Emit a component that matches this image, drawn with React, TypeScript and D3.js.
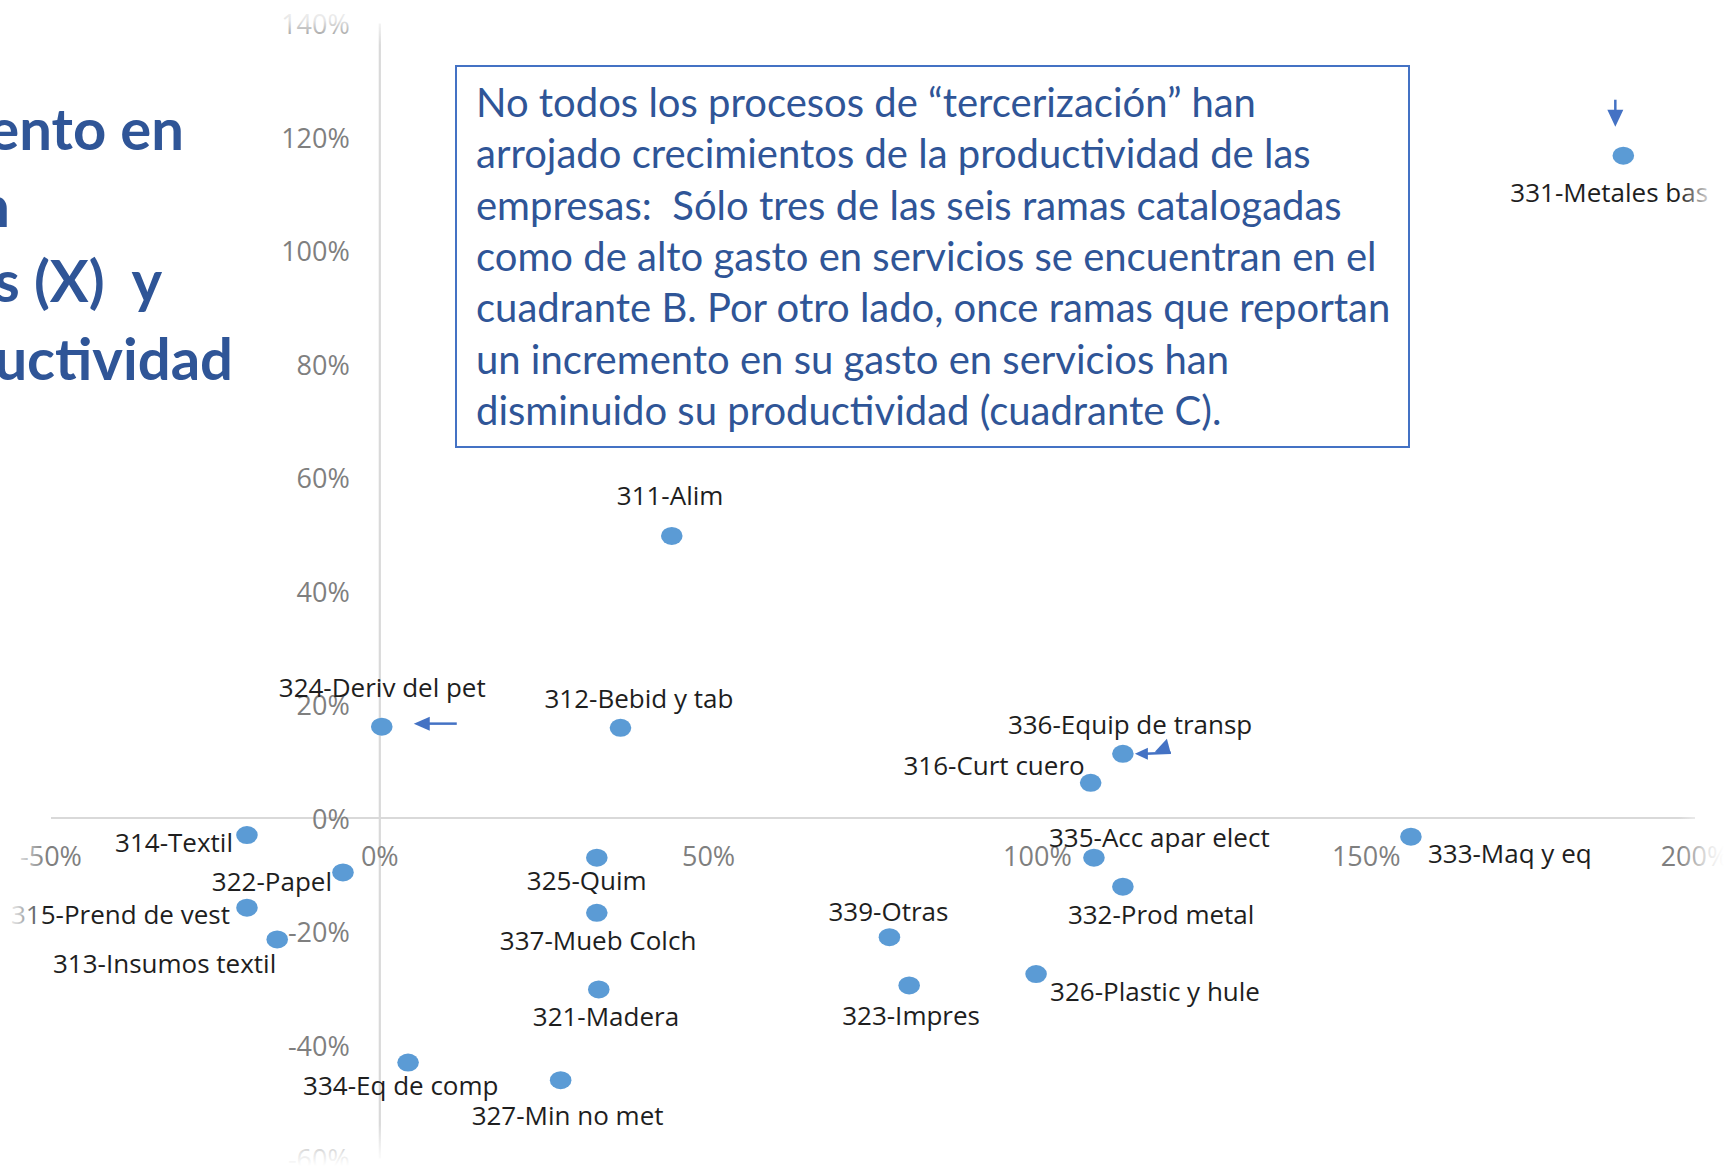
import React from "react";
import * as d3 from "d3";

// ramas manufactureras: crecimiento del gasto en servicios (X) y de la productividad (Y), en %
const ramas = [
  "331-Metales bas", "311-Alim", "324-Deriv del pet", "312-Bebid y tab",
  "336-Equip de transp", "316-Curt cuero", "335-Acc apar elect", "332-Prod metal",
  "333-Maq y eq", "314-Textil", "322-Papel", "315-Prend de vest",
  "313-Insumos textil", "325-Quim", "337-Mueb Colch", "321-Madera",
  "339-Otras", "323-Impres", "326-Plastic y hule", "327-Min no met", "334-Eq de comp",
];
const gastoServ = [189.1, 44.4, 0.3, 36.6, 113.0, 108.1, 108.6, 113.0, 156.8, -20.2, -5.6, -20.2, -15.6, 33.0, 33.0, 33.3, 77.5, 80.5, 99.8, 27.5, 4.3];
const productividad = [116.7, 49.7, 16.1, 15.9, 11.3, 6.2, -7.0, -12.1, -3.3, -3.0, -9.6, -15.8, -21.4, -7.0, -16.7, -30.2, -21.0, -29.5, -27.5, -46.2, -43.1];

const xTicks = [-50, 0, 50, 100, 150, 200];
const yTicks = [-60, -40, -20, 0, 20, 40, 60, 80, 100, 120, 140];

const tituloLineas = ["ento en", "n", "s (X)\u00a0 y", "uctividad"];
const notaLineas = [
  "No todos los procesos de “tercerización” han",
  "arrojado crecimientos de la productividad de las",
  "empresas:\u00a0 Sólo tres de las seis ramas catalogadas",
  "como de alto gasto en servicios se encuentran en el",
  "cuadrante B. Por otro lado, once ramas que reportan",
  "un incremento en su gasto en servicios han",
  "disminuido su productividad (cuadrante C).",
];

// label placement (offset from the dot), like Excel's dragged data labels
const labelPos: Record<string, [number, number, string]> = {
  "331-Metales bas": [-113, 36, "start"],
  "311-Alim": [-55, -41, "start"],
  "324-Deriv del pet": [-103, -40, "start"],
  "312-Bebid y tab": [-76, -30, "start"],
  "336-Equip de transp": [-115, -30, "start"],
  "316-Curt cuero": [-6, -18, "end"],
  "335-Acc apar elect": [-45, -21, "start"],
  "332-Prod metal": [-55, 27, "start"],
  "333-Maq y eq": [17, 16, "start"],
  "314-Textil": [-14, 7, "end"],
  "322-Papel": [-11, 9, "end"],
  "315-Prend de vest": [-17, 6, "end"],
  "313-Insumos textil": [-1, 24, "end"],
  "325-Quim": [-70, 22, "start"],
  "337-Mueb Colch": [-97, 27, "start"],
  "321-Madera": [-66, 27, "start"],
  "339-Otras": [-61, -26, "start"],
  "323-Impres": [-67, 30, "start"],
  "326-Plastic y hule": [14, 17, "start"],
  "327-Min no met": [-89, 35, "start"],
  "334-Eq de comp": [-105, 22, "start"],
};

const W = 1724, H = 1166;
const blue = "#2F5597";
const dotColor = "#5B9BD5";
const arrowColor = "#4472C4";

export default function App() {
  const x = d3.scaleLinear().domain([-50, 200]).range([51, 1695]);
  const y = d3.scaleLinear().domain([-60, 140]).range([1158.5, 23.5]);
  const fmt = (v: number) => v + "%";

  const pts = ramas.map((r, i) => ({ r, cx: x(gastoServ[i]), cy: y(productividad[i]) }));
  const pt = (name: string) => pts.find(p => p.r === name)!;
  const pMet = pt("331-Metales bas"), pPet = pt("324-Deriv del pet"), pTra = pt("336-Equip de transp");

  return (
    <svg width={W} height={H} style={{ position: "absolute", left: 0, top: 0, background: "#fff" }}>
      <defs>
        <linearGradient id="fT" x1="0" y1="0" x2="0" y2="1">
          <stop offset="0" stopColor="#fff" stopOpacity={1} />
          <stop offset="0.45" stopColor="#fff" stopOpacity={0.8} />
          <stop offset="1" stopColor="#fff" stopOpacity={0} />
        </linearGradient>
        <linearGradient id="fB" x1="0" y1="1" x2="0" y2="0">
          <stop offset="0" stopColor="#fff" stopOpacity={1} />
          <stop offset="0.3" stopColor="#fff" stopOpacity={0.8} />
          <stop offset="1" stopColor="#fff" stopOpacity={0} />
        </linearGradient>
        <linearGradient id="fL" x1="0" y1="0" x2="1" y2="0">
          <stop offset="0" stopColor="#fff" stopOpacity={1} />
          <stop offset="0.4" stopColor="#fff" stopOpacity={0.8} />
          <stop offset="1" stopColor="#fff" stopOpacity={0} />
        </linearGradient>
        <linearGradient id="fR" x1="1" y1="0" x2="0" y2="0">
          <stop offset="0" stopColor="#fff" stopOpacity={1} />
          <stop offset="0.35" stopColor="#fff" stopOpacity={0.8} />
          <stop offset="1" stopColor="#fff" stopOpacity={0} />
        </linearGradient>
      </defs>

      {/* axes */}
      <line x1={x(-50)} x2={x(200)} y1={y(0)} y2={y(0)} stroke="#d9d9d9" strokeWidth={2.2} />
      <line x1={x(0)} x2={x(0)} y1={y(140)} y2={y(-60)} stroke="#d9d9d9" strokeWidth={2.2} />

      <g fontFamily="'Open Sans', 'DejaVu Sans', sans-serif" fontSize={27} fill="#7f7f7f">
        {yTicks.map(t => (
          <text key={"y" + t} x={x(0) - 30} y={y(t)} textAnchor="end" dominantBaseline="central">{fmt(t)}</text>
        ))}
        {xTicks.map(t => (
          <text key={"x" + t} x={x(t)} y={y(0) + 37} textAnchor="middle" dominantBaseline="central">{fmt(t)}</text>
        ))}
      </g>

      {pts.map(p => (
        <ellipse key={p.r} cx={p.cx} cy={p.cy} rx={10.8} ry={9} fill={dotColor} />
      ))}

      <g fontFamily="'Open Sans', 'Noto Sans', sans-serif" fontSize={26} fill="#1e1e1e">
        {pts.map(p => {
          const [dx, dy, anchor] = labelPos[p.r];
          return (
            <text key={p.r} x={p.cx + dx} y={p.cy + dy} textAnchor={anchor} dominantBaseline="central">{p.r}</text>
          );
        })}
      </g>

      {/* arrows */}
      <g fill={arrowColor} stroke={arrowColor}>
        <line x1={pMet.cx - 8} x2={pMet.cx - 8} y1={pMet.cy - 56} y2={pMet.cy - 44} strokeWidth={2.5} />
        <polygon stroke="none" points={`${pMet.cx - 16},${pMet.cy - 46} ${pMet.cx},${pMet.cy - 46} ${pMet.cx - 8},${pMet.cy - 29}`} />

        <line x1={pPet.cx + 75} x2={pPet.cx + 44} y1={pPet.cy - 3} y2={pPet.cy - 3} strokeWidth={2.5} />
        <polygon stroke="none" points={`${pPet.cx + 32},${pPet.cy - 3} ${pPet.cx + 48},${pPet.cy - 10} ${pPet.cx + 48},${pPet.cy + 4}`} />

        <line x1={pTra.cx + 48} x2={pTra.cx + 22} y1={pTra.cy - 1} y2={pTra.cy} strokeWidth={2.5} />
        <polygon stroke="none" points={`${pTra.cx + 12},${pTra.cy} ${pTra.cx + 25},${pTra.cy - 6} ${pTra.cx + 25},${pTra.cy + 6}`} />
        <polygon stroke="none" points={`${pTra.cx + 32},${pTra.cy - 2} ${pTra.cx + 44},${pTra.cy - 15} ${pTra.cx + 48},${pTra.cy}`} />
      </g>

      {/* soft edges of the pasted chart picture */}
      <rect x={0} y={0} width={W} height={45} fill="url(#fT)" />
      <rect x={0} y={H - 42} width={W} height={42} fill="url(#fB)" />
      <rect x={0} y={0} width={45} height={H} fill="url(#fL)" />
      <rect x={W - 45} y={0} width={45} height={H} fill="url(#fR)" />

      {/* slide title (cut at the left) */}
      <g fontFamily="Lato, 'Open Sans', sans-serif" fontWeight={700} fontSize={58} fill={blue}>
        <text x={184} y={150} textAnchor="end">{tituloLineas[0]}</text>
        <text x={10} y={227} textAnchor="end">{tituloLineas[1]}</text>
        <text x={162} y={302} textAnchor="end">{tituloLineas[2]}</text>
        <text x={233} y={380} textAnchor="end">{tituloLineas[3]}</text>
      </g>

      {/* note box */}
      <rect x={456} y={66} width={953} height={381} fill="#fff" stroke={arrowColor} strokeWidth={2} />
      <g fontFamily="Lato, 'Open Sans', sans-serif" fontSize={40} fill={blue}>
        {notaLineas.map((l, i) => (
          <text key={i} x={476} y={117 + i * 51.3}>{l}</text>
        ))}
      </g>
    </svg>
  );
}
